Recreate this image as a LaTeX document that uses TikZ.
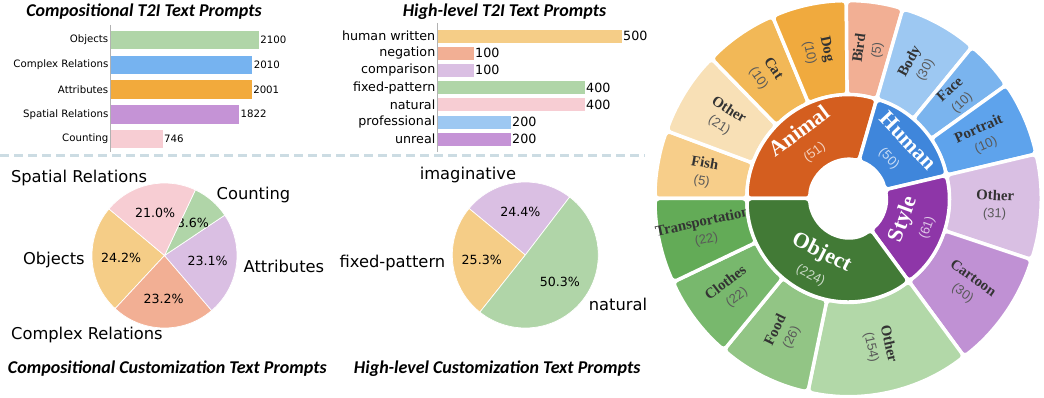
\documentclass[tikz,border=0pt]{standalone}
\usepackage{fontspec}
\setmainfont{DejaVu Sans}
\newfontfamily\capfont{Carlito}
\newfontfamily\rimfont{Liberation Serif}
\newfontfamily\cntfont{Liberation Sans}

% chart colours
\definecolor{cGreen}{HTML}{B0D5A8}
\definecolor{cBlue}{HTML}{76B3F0}
\definecolor{cOrange}{HTML}{F2AA3C}
\definecolor{cPurple}{HTML}{C593D6}
\definecolor{cPink}{HTML}{F7CDD3}
\definecolor{cLOrange}{HTML}{F5CD87}
\definecolor{cSalmon}{HTML}{F2AF94}
\definecolor{cLav}{HTML}{DABFE3}
\definecolor{cLBlue}{HTML}{9DC8F2}
\definecolor{cSep}{HTML}{CCDCE3}
% sunburst colours
\definecolor{cAnimal}{HTML}{D45E1F}
\definecolor{cHuman}{HTML}{3F86DB}
\definecolor{cStyle}{HTML}{8E36A8}
\definecolor{cObject}{HTML}{427A36}
\definecolor{cFish}{HTML}{F7CE8A}
\definecolor{cOthA}{HTML}{F8E0B6}
\definecolor{cCat}{HTML}{F2B857}
\definecolor{cDog}{HTML}{F0AA3E}
\definecolor{cBird}{HTML}{F2AF94}
\definecolor{cBody}{HTML}{9DC8F2}
\definecolor{cFace}{HTML}{7AB4EE}
\definecolor{cPortrait}{HTML}{5EA3EC}
\definecolor{cOthS}{HTML}{D9BFE3}
\definecolor{cCartoon}{HTML}{C091D4}
\definecolor{cOthO}{HTML}{B2D8A8}
\definecolor{cFood}{HTML}{92C585}
\definecolor{cClothes}{HTML}{78B86D}
\definecolor{cTransport}{HTML}{63AB57}

\newcommand{\ringpart}[5]{%
  \filldraw[fill=#5, draw=white, line width=3.5pt, rounded corners=4pt]
    (#1:#3) arc[start angle=#1, end angle=#2, radius=#3]
    -- (#2:#4) arc[start angle=#2, end angle=#1, radius=#4] -- cycle;}
\newcommand{\cnt}[1]{{\cntfont\mdseries\fontsize{13}{15}\selectfont\color{black!65}#1}}
\newcommand{\hubcnt}[2]{{\cntfont\mdseries\fontsize{13}{15}\selectfont\color{white!72!#1}#2}}

\begin{document}
\begin{tikzpicture}[x=1pt, y=-1pt,
  ttl/.style={font=\capfont\bfseries\itshape\fontsize{18}{21}\selectfont},
  barlab/.style={anchor=east, inner sep=1.5pt, font=\fontsize{10.2}{12}\selectfont},
  barval/.style={anchor=west, inner sep=1pt, font=\fontsize{10.2}{12}\selectfont},
  barlabb/.style={anchor=east, inner sep=1.5pt, font=\fontsize{12.7}{15}\selectfont},
  barvalb/.style={anchor=west, inner sep=1pt, font=\fontsize{12.7}{15}\selectfont},
  pielab/.style={inner sep=0pt, font=\fontsize{16.3}{19}\selectfont},
  pct/.style={inner sep=0pt, font=\fontsize{12.6}{15}\selectfont},
  rimlab/.style={align=center, inner sep=0pt, text=black!80,
    font=\rimfont\bfseries\fontsize{14.8}{17.5}\selectfont},
  hublab/.style={align=center, inner sep=0pt, text=white,
    font=\rimfont\bfseries\fontsize{22}{23}\selectfont}]
\useasboundingbox (0,0) rectangle (1044,398);

% titles
\node[ttl] (t1) at (144,12) {Compositional T2I Text Prompts};
\node[ttl] (t2) at (504.5,12) {High-level T2I Text Prompts};
\node[ttl] (t3) at (167.3,369) {Compositional Customization Text Prompts};
\node[ttl] (t4) at (497.2,369) {High-level Customization Text Prompts};

% compositional T2I bars
\foreach \n/\v/\c [count=\i from 0] in {Objects/2100/cGreen, Complex Relations/2010/cBlue,
    Attributes/2001/cOrange, Spatial Relations/1822/cPurple, Counting/746/cPink}
 {\filldraw[fill=\c, draw=white, line width=0.5pt] (110,30.25+24.75*\i) rectangle ++(\v*0.071,19.5);
  \node[barlab] (ca\i) at (110,40+24.75*\i) {\n};
  \node[barval] (cv\i) at (110+\v*0.071,40+24.75*\i) {\v};}
\draw[black!30, line width=0.8pt] (110,25) -- (110,152);

% high-level T2I bars
\foreach \n/\v/\c [count=\i from 0] in {human written/500/cLOrange, negation/100/cSalmon,
    comparison/100/cLav, fixed-pattern/400/cGreen, natural/400/cPink,
    professional/200/cLBlue, unreal/200/cPurple}
 {\filldraw[fill=\c, draw=white, line width=0.5pt] (437,29+17.17*\i) rectangle ++(\v*0.37,14);
  \node[barlabb] (ha\i) at (437,36+17.17*\i) {\n};
  \node[barvalb] (hv\i) at (437+\v*0.37,36+17.17*\i) {\v};}
\draw[black!30, line width=0.8pt] (437,23) -- (437,152);

% separator
\draw[cSep, line width=2.5pt, dash pattern=on 9pt off 5pt] (0,155.5) -- (645,155.5);

% compositional customization pie
\begin{scope}[shift={(164.5,255.5)}, yscale=-1]
\foreach \a/\b/\c/\n/\p/\s [count=\i] in {140/227.1/cLOrange/Objects/24.2/east,
    227.1/310.6/cSalmon/Complex Relations/23.2/east, 310.6/393.8/cLav/Attributes/23.1/west,
    393.8/424.8/cGreen/Counting/8.6/west, 424.8/500/cPink/Spatial Relations/21.0/east}
 {\filldraw[fill=\c, draw=white, line width=0.7pt] (0,0) -- (\a:72.5)
    arc[start angle=\a, end angle=\b, radius=72.5] -- cycle;
  \node[pct] (pp\i) at ({(\a+\b)/2}:43.5) {\p\%};
  \node[pielab, anchor=\s] (pn\i) at ({(\a+\b)/2}:79.75) {\n};}
\end{scope}

% high-level customization pie
\begin{scope}[shift={(525.3,255)}, yscale=-1]
\foreach \a/\b/\c/\n/\p/\s [count=\i] in {52.6/140.4/cLav/imaginative/24.4/east,
    140.4/231.5/cLOrange/fixed-pattern/25.3/east, 231.5/412.6/cGreen/natural/50.3/west}
 {\filldraw[fill=\c, draw=white, line width=0.7pt] (0,0) -- (\a:73)
    arc[start angle=\a, end angle=\b, radius=73] -- cycle;
  \node[pct] (qp\i) at ({(\a+\b)/2}:43.8) {\p\%};
  \node[pielab, anchor=\s] (qn\i) at ({(\a+\b)/2}:80.3) {\n};}
\end{scope}

% sunburst
\begin{scope}[shift={(848,198.5)}, yscale=-1.025]
\foreach \a/\b/\c/\n/\v/\r [count=\i] in {180/160/cFish/Fish/5/-10,
    160/135/cOthA/Other/21/-32.5, 135/113/cCat/Cat/10/-56, 113/90.5/cDog/Dog/10/-78.25,
    90.5/73.5/cBird/Bird/5/82, 73.5/50/cBody/Body/30/61.75, 50/35/cFace/Face/10/42.5,
    35/13/cPortrait/Portrait/10/24, 13/-18/cOthS/Other/31/-2.5,
    -18/-53/cCartoon/Cartoon/30/-35.5, -53/-102/cOthO/Other/154/-77.5,
    -102/-130/cFood/Food/26/64, -130/-155/cClothes/Clothes/22/37.5,
    -155/-180/cTransport/Transportation/22/12.5}
 {\ringpart{\a}{\b}{101}{193}{\c}
  \node[rimlab, rotate=\r] (rim\i) at ({(\a+\b)/2}:147) {\n\\\cnt{(\v)}};}
\foreach \a/\b/\c/\n/\v/\r [count=\i] in {180/73.5/cAnimal/Animal/51/36.75,
    73.5/13/cHuman/Human/50/-46.75, 13/-53/cStyle/Style/61/70,
    -53/-180/cObject/Object/224/-26.5}
 {\ringpart{\a}{\b}{38}{101}{\c}
  \node[hublab, rotate=\r] (hub\i) at ({(\a+\b)/2}:70) {\n\\\hubcnt{\c}{(\v)}};}
\end{scope}
\end{tikzpicture}
\end{document}
